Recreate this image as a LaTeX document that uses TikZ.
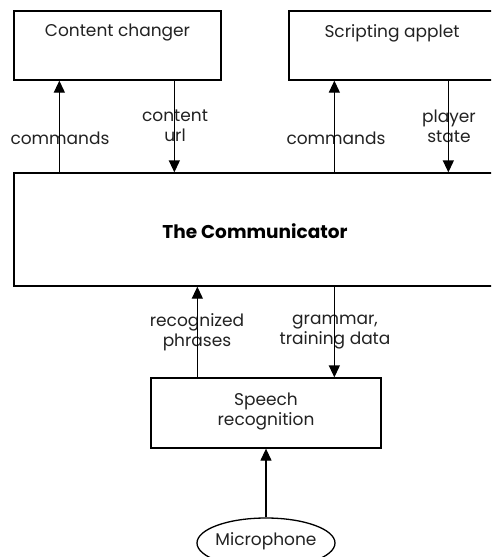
\documentclass[tikz,border=0pt]{standalone}
\usepackage{fontspec}
\setmainfont{Poppins}
\usetikzlibrary{arrows.meta,shapes.geometric}
\definecolor{ink}{HTML}{222222}
\begin{document}
\begin{tikzpicture}[x=1pt,y=-1pt,
  box/.style={draw, line width=1.3pt, rectangle, inner sep=0pt},
  link/.style={line width=1.3pt, -{Triangle[length=12pt,width=11pt]}},
  lbl/.style={font=\fontsize{17}{20}\selectfont, align=center, text=ink, inner sep=0pt},
  heading/.style={font=\fontsize{18.5}{22}\selectfont\bfseries, text=black, inner sep=0pt}]
\clip (0,0) rectangle (491,557);
\fill[white] (0,0) rectangle (491,557);

% boxes
\node[box, minimum width=207pt, minimum height=69pt] (cc) at (117.5,45.5) {};
\node[box, minimum width=207pt, minimum height=69pt] (sa) at (392.5,45.5) {};
\node[box, minimum width=482pt, minimum height=113pt] (comm) at (255,229.5) {};
\node[box, minimum width=230pt, minimum height=70pt] (sr) at (266,413) {};
\node[draw, ellipse, line width=1.3pt, minimum width=138pt, minimum height=50pt, inner sep=0pt] (mic) at (266,543) {};

% box texts
\node[lbl] (cctext) at (117.5,33) {Content changer};
\node[lbl] (satext) at (392,33) {Scripting applet};
\node[heading] (commtext) at (255,231) {The Communicator};
\node[lbl] (srtext) at (266,411) {Speech\\recognition};
\node[lbl] (mictext) at (266,541) {Microphone};

% connector labels
\node[lbl] (l1) at (60,138) {commands};
\node[lbl] (l2) at (175,126) {content\\url};
\node[lbl] (l3) at (336,138) {commands};
\node[lbl] (l4) at (449,126) {player\\state};
\node[lbl] (l5) at (197,332) {recognized\\phrases};
\node[lbl] (l6) at (335,332) {grammar,\\training data};

% connectors
\draw[link] ([xshift=46pt]comm.north west) -- ([xshift=46pt]cc.south west);
\draw[link] ([xshift=161pt]cc.south west) -- ([xshift=161pt]comm.north west);
\draw[link] ([xshift=321pt]comm.north west) -- ([xshift=46pt]sa.south west);
\draw[link] ([xshift=160pt]sa.south west) -- ([xshift=435pt]comm.north west);
\draw[link] ([xshift=47pt]sr.north west) -- ([xshift=184pt]comm.south west);
\draw[link] ([xshift=321pt]comm.south west) -- ([xshift=184pt]sr.north west);
\draw[link] (mic.north) -- (sr.south);
\end{tikzpicture}
\end{document}
